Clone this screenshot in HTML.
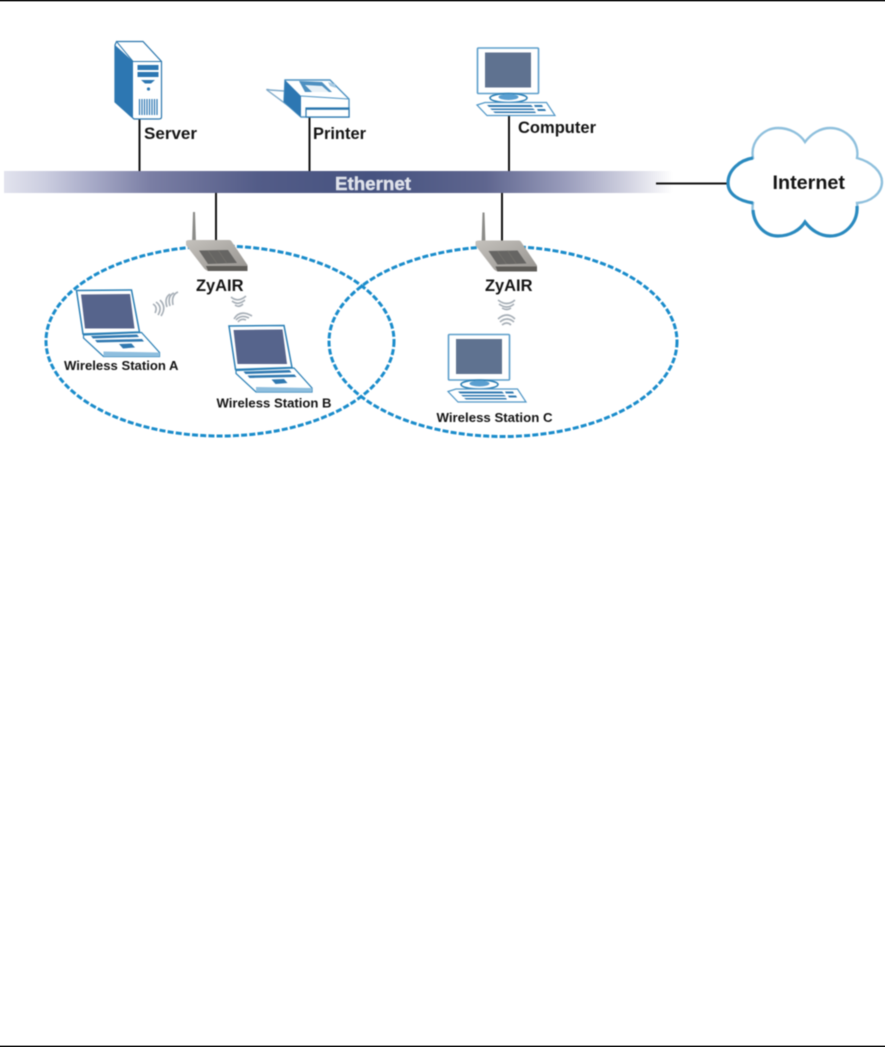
<!DOCTYPE html>
<html><head><meta charset="utf-8"><style>
html,body{margin:0;padding:0;background:#fff;width:885px;height:1047px;overflow:hidden}
svg{display:block;position:absolute;left:0;top:0}
text{font-family:"Liberation Sans",sans-serif;font-weight:bold;fill:#141414}
</style></head><body>
<svg width="885" height="1047" viewBox="0 0 885 1047" xmlns="http://www.w3.org/2000/svg">
<defs>
<linearGradient id="bar" x1="0" x2="1" y1="0" y2="0">
<stop offset="0" stop-color="#e2e3ee"/><stop offset=".06" stop-color="#ccCEe0"/>
<stop offset=".13" stop-color="#a8abc8"/><stop offset=".22" stop-color="#7a7ea4"/>
<stop offset=".38" stop-color="#535c88"/><stop offset=".55" stop-color="#465380"/>
<stop offset=".72" stop-color="#5f668f"/><stop offset=".84" stop-color="#9a9dbc"/>
<stop offset=".93" stop-color="#d0d1e0"/><stop offset="1" stop-color="#ffffff"/>
</linearGradient>
<linearGradient id="rt" x1="0" x2="1" y1="0" y2="1">
<stop offset="0" stop-color="#c4c1bc"/><stop offset="1" stop-color="#979490"/>
</linearGradient>
<g id="router">
<path d="M193 212 L195 212 L196 244 L192 244Z" fill="#8b8b88"/>
<path d="M186 241.5 Q186 240 190 240 L229 240 Q231 240 232 242 L247.5 265 L247.5 271 L208 271 Q205 270 203 267 L186 245Z" fill="url(#rt)"/>
<path d="M206 266 L247.5 266 L247.5 271 L208 271Z" fill="#5f5d59"/>
<path d="M199 250.5 L228 250 L237 263 L208 264Z" fill="#666563"/>
<path d="M208 250.5 L217 263.5 M218 250 L227 263.5" stroke="#77756f" stroke-width=".7" fill="none"/>
</g>
<g id="laptop">
<path d="M76.5 290.5 L131.5 290 L139.5 332 L83 334Z" fill="#fff" stroke="#2a7fb5" stroke-width="1.5"/>
<path d="M81 294.5 L130 294 L134.5 328.5 L85 328.5Z" fill="#56648c"/>
<path d="M83.5 335 L141.5 332.5 L159.5 352.5 L159.5 356.5 L103.5 356.5 L83.5 338Z" fill="#fff" stroke="#2a7fb5" stroke-width="1.2"/>
<path d="M103.5 351.5 L159.5 352.5 L159.5 356.5 L103.5 356.5Z" fill="#8ebede"/>
<path d="M91 336 L137 334.5 L139 337 L93 338.5Z M95 340 L142 339 L144 341.5 L97 342.5Z" fill="#2f78b0"/>
<path d="M119 344 L131.5 343.5 L135 347.5 L123 348.5Z" fill="#2f78b0"/>
</g>
<g id="pc">
<rect x="477.5" y="48" width="61" height="45.5" rx="1" fill="#fff" stroke="#5b9dca" stroke-width="1.6"/>
<rect x="485" y="52.5" width="46" height="35" fill="#5f7290"/>
<ellipse cx="508.5" cy="98" rx="18.5" ry="4.5" fill="#fff" stroke="#2a7fb5" stroke-width="1.6"/>
<ellipse cx="508.5" cy="97" rx="10" ry="3" fill="#5a9fd0"/>
<path d="M477 105 L485 102.5 L546.5 102.5 L555 115.5 L487 115.5Z" fill="#fff" stroke="#4f96c6" stroke-width="1.2"/>
<path d="M487 105 L531 105 L533 107 L489 107Z M490 108.5 L533 108.5 L535 110 L492 110Z M493 111.5 L535 111.5 L536 113 L495 113Z M534 105 L542 105 L543 107 L535 107Z M537 109 L545 109 L546 111 L538 111Z" fill="#2f78b0"/>
</g>
</defs>

<rect x="0" y="0" width="885" height="1.4" fill="#111"/>
<rect x="0" y="1045.6" width="885" height="1.4" fill="#111"/>

<g style="filter:blur(.4px)">
<ellipse cx="220" cy="341" rx="174" ry="95" fill="none" stroke="#1a8ccb" stroke-width="3" stroke-dasharray="6 2.2"/>
<ellipse cx="503" cy="341.5" rx="174" ry="95" fill="none" stroke="#1a8ccb" stroke-width="3" stroke-dasharray="6 2.2"/>

<rect x="4" y="171" width="669" height="22" fill="url(#bar)"/>
<g stroke="#111" stroke-width="2" fill="none">
<path d="M139.5 118V171M309.5 116V171M509 114V171M216 193V242M502 193V242M656 183.5H729"/>
</g>

<!-- server -->
<path d="M116.5 41.5 L143 41.5 L161.5 61.5 L161.5 117 Q161.5 119 159 119 L134 119 L115 102 L115 45Z" fill="#fff" stroke="#2a76ad" stroke-width="1.2"/>
<path d="M115 45 L133 61.5 L133 118.5 L115 102Z" fill="#2d77b2"/>
<path d="M133 61.5 L161.5 61.5 M133 61.5 L116.5 41.5" stroke="#2a76ad" stroke-width="1" fill="none"/>
<rect x="137.5" y="65" width="21" height="5" fill="#2d77b2"/>
<rect x="137.5" y="72" width="21" height="5" fill="#2d77b2"/>
<path d="M141 80 L155 80 L151 83.5 L145 83.5Z" fill="#2d77b2"/>
<circle cx="148.5" cy="89" r="1.6" fill="#2d77b2"/>
<g stroke="#2d77b2" stroke-width="1.2"><path d="M139.5 99V115M142 99V115M144.5 99V115M147 99V115M149.5 99V115M152 99V115M154.5 99V115M157 99V115"/></g>

<!-- printer -->
<path d="M267 90 Q266 89 270 90 L285 91 L300 112 L298 113Z" fill="#fff" stroke="#7fa9c9" stroke-width="1.4"/>
<path d="M285 80 L330 80 L349 99 L349 117 L301 117 L284 102Z" fill="#fff" stroke="#4d92c2" stroke-width="1.4"/>
<path d="M285 80 L301 96 L301 117 L284 102Z" fill="#2d77b2"/>
<path d="M301 96 L349 99" stroke="#4d92c2" stroke-width="1"/>
<path d="M299 81 L322 82 L332 92 L305 92Z" fill="#4d8fc0"/>
<path d="M305 85 L322 86 L329 92 L312 92Z" fill="#e8f1f7"/>
<path d="M328 82 L335 84 L336 88 L330 86Z" fill="#a9cbe3"/>
<rect x="306" y="108" width="43" height="9" fill="#fff" stroke="#2a76ad" stroke-width="1.2"/>
<rect x="306" y="108" width="43" height="1.8" fill="#2a76ad"/>

<!-- computers -->
<use href="#pc"/>
<use href="#pc" transform="translate(-29 286.5)"/>

<!-- cloud -->
<path d="M728 183 C728 170 740 160 753 158 C750 142 763 128 778 128 C790 128 800 134 805 142 C811 134 820 128 830 128 C846 128 860 142 857 158 C872 162 882 172 882 182 C882 193 871 202 857 203 C860 221 846 236 830 236 C820 236 811 230 805 222 C800 230 790 236 778 236 C763 236 750 221 753 203 C740 201 728 195 728 183Z" fill="#fff" stroke="#8fc0dd" stroke-width="2.4"/>
<path d="M753 158 C740 160 728 170 728 183 C728 195 740 201 753 203 M753 210 C754 225 765 236 778 236 C790 236 800 230 805 222 C811 230 820 236 830 236 C846 236 858 222 857 206" fill="none" stroke="#2a8abf" stroke-width="3.2"/>

<!-- routers -->
<use href="#router"/>
<use href="#router" transform="translate(289.5 .5)"/>

<!-- laptops -->
<use href="#laptop"/>
<use href="#laptop" transform="translate(152.5 35.5)"/>

<!-- wifi -->
<g fill="none" stroke="#a6aeb6" stroke-width="1.6">
<path d="M153 304 Q158 307 155 313 M156 302 Q163 307 158 315 M160 300 Q167 307 161 316"/>
<path d="M178 292 Q171 295 173 305 M174 293 Q167 296 170 306 M170 294 Q164 298 167 307"/>
<path d="M231 297 Q238 303 246 296 M232 301 Q238 306 245 300 M235 305 Q239 308 243 304"/>
<path d="M238 322 Q241 318 246 320 M236 320 Q241 314 249 318 M234 319 Q240 309 252 316"/>
<path d="M498 300 Q507 307 515 300 M499 304 Q507 310 514 304 M502 308 Q507 311 511 308"/>
<path d="M502 325 Q507 321 511 325 M500 322 Q507 316 514 322 M498 319 Q507 311 515 319"/>
</g>

<!-- labels -->
<text x="144" y="139" font-size="17" textLength="53" lengthAdjust="spacingAndGlyphs">Server</text>
<text x="313" y="139" font-size="16.5" textLength="53" lengthAdjust="spacingAndGlyphs">Printer</text>
<text x="518" y="133" font-size="16.5" textLength="78" lengthAdjust="spacingAndGlyphs">Computer</text>
<text x="335" y="190" font-size="18.5" textLength="76" lengthAdjust="spacingAndGlyphs" style="fill:#dfe2ea;stroke:#dfe2ea;stroke-width:.4">Ethernet</text>
<text x="772.5" y="189" font-size="19.5" textLength="72.5" lengthAdjust="spacingAndGlyphs">Internet</text>
<text x="196" y="291" font-size="16.3" textLength="47.5" lengthAdjust="spacingAndGlyphs">ZyAIR</text>
<text x="485" y="291" font-size="16.3" textLength="47.5" lengthAdjust="spacingAndGlyphs">ZyAIR</text>
<text x="64" y="370" font-size="13" textLength="114.5" lengthAdjust="spacingAndGlyphs">Wireless Station A</text>
<text x="216.5" y="407.5" font-size="13" textLength="115" lengthAdjust="spacingAndGlyphs">Wireless Station B</text>
<text x="436.5" y="422" font-size="13" textLength="116" lengthAdjust="spacingAndGlyphs">Wireless Station C</text>
</g>
</svg>
</body></html>
